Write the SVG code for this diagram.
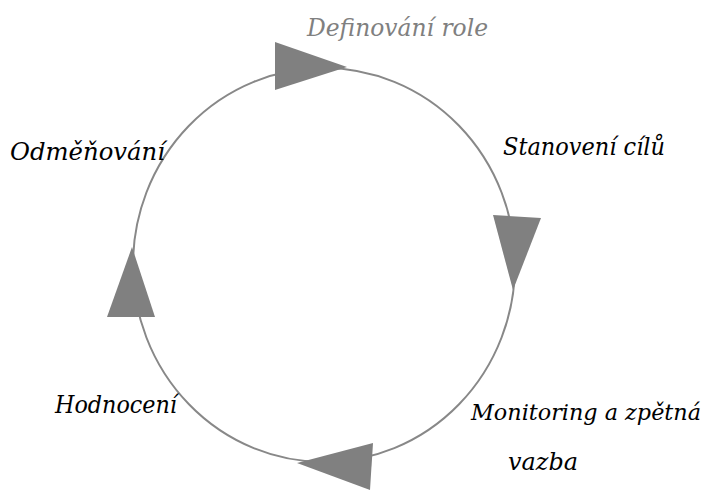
<svg xmlns="http://www.w3.org/2000/svg" width="712" height="490" viewBox="0 0 712 490">
<style>
.lbl{font-family:"DejaVu Serif","Liberation Serif",serif;font-style:italic;font-size:25px;fill:#000}
.gray{fill:#808080}
.arr{fill:#808080;stroke:none}
.ring{fill:none;stroke:#888;stroke-width:2}
</style>
<rect width="712" height="490" fill="#fff"/>
<g id="connectors">
<ellipse class="ring" cx="324" cy="265" rx="191" ry="197"/>
<polygon class="arr" points="275,42 275,90 347,67"/>
<polygon class="arr" points="493,215 541,218 513,290"/>
<polygon class="arr" points="132,247 107,317 155,317"/>
<polygon class="arr" points="297,463 373,443 370,490"/>
</g>
<g id="n1"><text class="lbl gray" x="307" y="36" textLength="181" lengthAdjust="spacingAndGlyphs">Definování role</text></g>
<g id="n2"><text class="lbl" x="503" y="155" textLength="162" lengthAdjust="spacingAndGlyphs">Stanovení cílů</text></g>
<g id="n3"><text class="lbl" x="471" y="420" font-size="22" style="font-size:22px" textLength="230" lengthAdjust="spacingAndGlyphs">Monitoring a zpětná</text><text class="lbl" x="508" y="470" textLength="70" lengthAdjust="spacingAndGlyphs">vazba</text></g>
<g id="n4"><text class="lbl" x="55" y="413" textLength="122" lengthAdjust="spacingAndGlyphs">Hodnocení</text></g>
<g id="n5"><text class="lbl" x="10" y="160" textLength="155" lengthAdjust="spacingAndGlyphs">Odměňování</text></g>
</svg>
